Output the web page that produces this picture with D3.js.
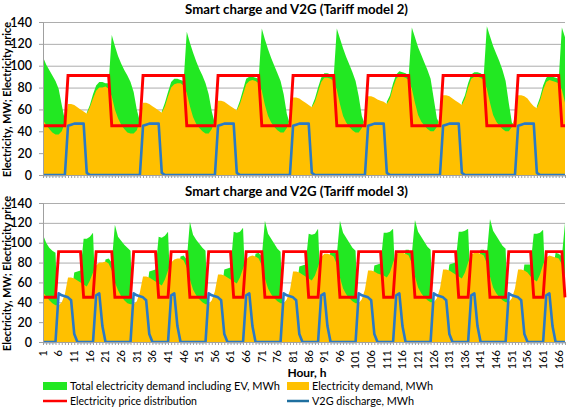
<!DOCTYPE html>
<html><head><meta charset="utf-8">
<script src="https://cdn.jsdelivr.net/npm/d3@7"></script>
<style>body{margin:0;background:#fff} svg{display:block;font-family:Lato,"Open Sans",sans-serif}</style>
</head><body>
<svg id="c" width="567" height="408"></svg>
<script>
// ---------- DATA ----------
const hourLabels = [1,6,11,16,21,26,31,36,41,46,51,56,61,66,71,76,81,86,91,96,101,106,111,116,121,126,131,136,141,146,151,156,161,166];
const yTicks = [0,20,40,60,80,100,120,140];

// Electricity demand, MWh (shared by both tariff models)
const demand = [
 50,46,42,39,37,37,40,48,65,65,64,62,60,58,56,62,70,77,80,80,81,79,72,60,
 52,46,42,39,38,38,41,50,66,66,65,63,61,59,57,63,72,80,83,84,84,82,75,63,
 53,47,43,40,38,38,42,51,68,68,67,65,63,61,59,65,74,83,86,87,86,84,77,64,
 54,48,44,41,39,39,43,52,71,71,70,68,66,64,62,67,76,85,89,89,88,86,78,65,
 54,48,44,41,39,39,43,53,72,72,71,69,68,67,65,70,80,88,91,90,89,87,79,66,
 55,49,45,42,40,40,44,54,73,73,72,70,68,66,64,70,80,88,90,90,89,87,79,66,
 55,49,45,42,40,40,44,54,73,73,72,70,66,63,61,68,78,85,87,86,85,84,78,66
];

// Total electricity demand including EV, MWh - Tariff model 2
const totalT2 = [
 108,101,96,91,86,79,64,50,20,19,17,15,13,11,57,64,74,82,85,85,84,84,128,118,
 109,102,96,91,85,76,60,49,21,20,18,16,14,12,58,66,76,85,88,88,87,86,131,121,
 112,104,97,91,84,74,58,47,23,22,20,18,16,14,60,68,78,88,90,90,89,88,134,124,
 115,107,100,93,86,74,56,46,26,25,23,21,19,17,63,70,80,89,93,93,92,90,134,125,
 116,108,101,94,86,72,54,46,27,26,24,22,21,20,67,73,84,92,95,94,93,91,135,126,
 117,110,103,96,88,70,52,46,28,27,25,23,21,19,66,73,84,92,94,94,93,91,136,127,
 118,111,104,96,86,66,48,45,28,27,25,23,19,16,63,71,82,89,91,90,89,88,135,126
];

// Total electricity demand including EV, MWh - Tariff model 3
const totalT3 = [
 108,100,95,92,90,2,4,6,8,45,70,71,72,104,104,106,110,30,31,64,83,84,80,118,
 106,102,98,95,92,3,5,7,9,46,71,72,73,106,105,107,111,33,34,67,86,87,83,121,
 108,103,99,95,92,4,6,8,11,48,73,74,75,111,110,111,115,36,37,70,89,90,86,122,
 109,104,99,94,91,5,7,9,13,50,76,77,78,109,108,109,114,38,39,73,92,92,88,122,
 110,105,100,95,92,6,8,10,14,51,77,78,79,110,110,111,114,41,42,74,93,93,89,123,
 111,106,101,96,93,7,9,11,15,52,78,79,80,111,111,112,114,40,41,74,93,93,89,124,
 112,107,102,97,94,7,9,11,15,52,78,78,78,109,109,110,113,37,38,70,90,89,86,120
];

// Electricity price distribution - Tariff model 2
const priceT2 = [
 45,45,45,45,45,45,45,45,91,91,91,91,91,91,91,91,91,91,91,91,91,91,45,45,
 45,45,45,45,45,45,45,45,91,91,91,91,91,91,91,91,91,91,91,91,91,91,45,45,
 45,45,45,45,45,45,45,45,91,91,91,91,91,91,91,91,91,91,91,91,91,91,45,45,
 45,45,45,45,45,45,45,45,91,91,91,91,91,91,91,91,91,91,91,91,91,91,45,45,
 45,45,45,45,45,45,45,45,91,91,91,91,91,91,91,91,91,91,91,91,91,91,45,45,
 45,45,45,45,45,45,45,45,91,91,91,91,91,91,91,91,91,91,91,91,91,91,45,45,
 45,45,45,45,45,45,45,45,91,91,91,91,91,91,91,91,91,91,91,91,91,91,45,45
];

// Electricity price distribution - Tariff model 3
const priceT3 = [
 45,45,45,45,45,91,91,91,91,91,91,91,91,45,45,45,45,91,91,91,91,91,91,45,
 45,45,45,45,45,91,91,91,91,91,91,91,91,45,45,45,45,91,91,91,91,91,91,45,
 45,45,45,45,45,91,91,91,91,91,91,91,91,45,45,45,45,91,91,91,91,91,91,45,
 45,45,45,45,45,91,91,91,91,91,91,91,91,45,45,45,45,91,91,91,91,91,91,45,
 45,45,45,45,45,91,91,91,91,91,91,91,91,45,45,45,45,91,91,91,91,91,91,45,
 45,45,45,45,45,91,91,91,91,91,91,91,91,45,45,45,45,91,91,91,91,91,91,45,
 45,45,45,45,45,91,91,91,91,91,91,91,91,45,45,45,45,91,91,91,91,91,91,45
];

// V2G discharge, MWh - Tariff model 2
const v2gT2 = [
 0,0,0,0,0,0,0,0,45,46,47,47,47,47,2,0,0,0,0,0,0,0,0,0,
 0,0,0,0,0,0,0,0,45,46,47,47,47,47,2,0,0,0,0,0,0,0,0,0,
 0,0,0,0,0,0,0,0,45,46,47,47,47,47,2,0,0,0,0,0,0,0,0,0,
 0,0,0,0,0,0,0,0,45,46,47,47,47,47,2,0,0,0,0,0,0,0,0,0,
 0,0,0,0,0,0,0,0,45,46,47,47,47,47,2,0,0,0,0,0,0,0,0,0,
 0,0,0,0,0,0,0,0,45,46,47,47,47,47,2,0,0,0,0,0,0,0,0,0,
 0,0,0,0,0,0,0,0,45,46,47,47,47,47,2,0,0,0,0,0,0,0,0,0
];

// V2G discharge, MWh - Tariff model 3
const v2gT3 = [
 0,0,0,0,0,49,47,46,45,42,8,0,0,0,0,0,0,47,49,16,0,0,0,0,
 0,0,0,0,0,49,47,46,45,42,8,0,0,0,0,0,0,47,49,16,0,0,0,0,
 0,0,0,0,0,49,47,46,45,42,8,0,0,0,0,0,0,47,49,16,0,0,0,0,
 0,0,0,0,0,49,47,46,45,42,8,0,0,0,0,0,0,47,49,16,0,0,0,0,
 0,0,0,0,0,49,47,46,45,42,8,0,0,0,0,0,0,47,49,16,0,0,0,0,
 0,0,0,0,0,49,47,46,45,42,8,0,0,0,0,0,0,47,49,16,0,0,0,0,
 0,0,0,0,0,49,47,46,45,42,8,0,0,0,0,0,0,47,49,16,0,0,0,0
];

const hours = demand.map((d,i)=>i+1);

// ---------- STYLE ----------
const C = {green:"#22E822", orange:"#FFC000", red:"#FF0000", blue:"#2A7AC6", grid:"#ADADAD", axis:"#A0A0A0", text:"#000"};

const svg = d3.select("#c");
const x = d3.scaleLinear().domain([1,168]).range([43,565]);

function panel(yRange, total, price, v2g, title, titleY, showLabels){
  const y = d3.scaleLinear().domain([0,140]).range(yRange);
  const g = svg.append("g");
  g.append("g").attr("transform",`translate(${x.range()[0]},0)`)
    .call(d3.axisLeft(y).tickValues(yTicks.slice(1)).tickSize(-(x.range()[1]-x.range()[0])).tickFormat(""))
    .call(a=>a.select(".domain").remove())
    .call(a=>a.selectAll("line").attr("stroke",C.grid).attr("stroke-width",1));
  const area = arr => d3.area().x((d,i)=>x(hours[i])).y0(y(0)).y1(d=>y(d))(arr);
  const line = arr => d3.line().x((d,i)=>x(hours[i])).y(d=>y(d))(arr);
  g.append("path").attr("d",area(total)).attr("fill",C.green);
  g.append("path").attr("d",area(demand)).attr("fill",C.orange);
  g.append("path").attr("d",line(price)).attr("fill","none").attr("stroke",C.red).attr("stroke-width",2.9).attr("stroke-linejoin","miter");
  g.append("path").attr("d",line(v2g)).attr("fill","none").attr("stroke",C.blue).attr("stroke-width",2.6).attr("stroke-linejoin","round");
  g.append("g").attr("transform",`translate(${x.range()[0]},0)`)
    .call(d3.axisLeft(y).tickValues(yTicks).tickSize(4).tickPadding(7))
    .call(a=>a.select(".domain").attr("stroke",C.axis))
    .call(a=>a.selectAll("line").attr("stroke",C.axis))
    .call(a=>a.selectAll("text").attr("font-family","Lato, sans-serif").attr("font-size",12.5).attr("font-weight",600).attr("fill",C.text));
  g.append("g").attr("transform",`translate(0,${y(0)})`)
    .call(d3.axisBottom(x).tickValues(hours).tickSize(3).tickFormat(""))
    .call(a=>a.select(".domain").attr("stroke",C.axis))
    .call(a=>a.selectAll("line").attr("stroke",C.axis));
  if(showLabels){
    g.selectAll("text.xl").data(hourLabels).enter().append("text").attr("class","xl")
      .attr("transform",d=>`translate(${x(d)},${y(0)+8}) rotate(-90)`)
      .attr("dy","0.35em").attr("text-anchor","end")
      .attr("font-size",11).attr("fill",C.text).text(d=>d);
  }
  svg.append("text").attr("x",296.5).attr("y",titleY).attr("text-anchor","middle")
    .attr("font-size",13).attr("font-weight",700)
    .attr("textLength",223).attr("lengthAdjust","spacingAndGlyphs").text(title);
  const yc = (yRange[0]+yRange[1])/2 + 1;
  svg.append("text").attr("transform",`translate(10.5,${yc}) rotate(-90)`).attr("text-anchor","middle")
    .attr("font-size",10.5).attr("font-weight",700)
    .attr("textLength",155).attr("lengthAdjust","spacingAndGlyphs").text("Electricity, MW; Electricity price");
}

panel([175,22], totalT2, priceT2, v2gT2, "Smart charge and V2G (Tariff model 2)", 14, false);
panel([342,203], totalT3, priceT3, v2gT3, "Smart charge and V2G (Tariff model 3)", 196, true);

svg.append("text").attr("x",307).attr("y",377).attr("text-anchor","middle")
  .attr("font-size",12).attr("font-weight",700).text("Hour, h");

// legend
const lg = svg.append("g").attr("font-size",11);
lg.append("rect").attr("x",43).attr("y",382).attr("width",24).attr("height",8).attr("fill",C.green);
lg.append("text").attr("x",70).attr("y",390).attr("textLength",210).attr("lengthAdjust","spacingAndGlyphs").text("Total electricity demand including EV, MWh");
lg.append("rect").attr("x",287).attr("y",382).attr("width",22).attr("height",8).attr("fill",C.orange);
lg.append("text").attr("x",312).attr("y",390).attr("textLength",121).attr("lengthAdjust","spacingAndGlyphs").text("Electricity demand, MWh");
lg.append("line").attr("x1",43).attr("x2",67).attr("y1",401).attr("y2",401).attr("stroke",C.red).attr("stroke-width",2.5);
lg.append("text").attr("x",70).attr("y",405).attr("textLength",127).attr("lengthAdjust","spacingAndGlyphs").text("Electricity price distribution");
lg.append("line").attr("x1",287).attr("x2",309).attr("y1",401).attr("y2",401).attr("stroke","#1F6F9F").attr("stroke-width",2.5);
lg.append("text").attr("x",312).attr("y",405).attr("textLength",102).attr("lengthAdjust","spacingAndGlyphs").text("V2G discharge, MWh");
</script>
</body></html>
